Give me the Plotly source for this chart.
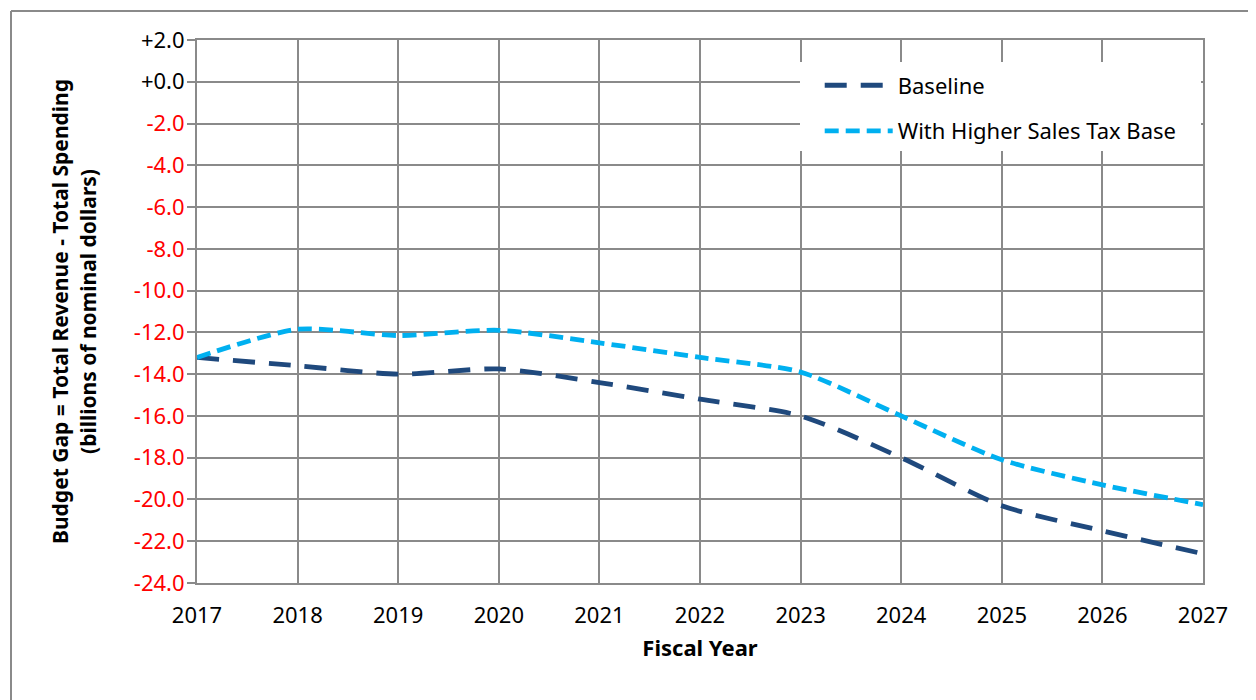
import plotly.graph_objects as go

years = [2017, 2018, 2019, 2020, 2021, 2022, 2023, 2024, 2025, 2026, 2027]
baseline = [-13.2, -13.6, -14.0, -13.75, -14.4, -15.2, -16.0, -18.0, -20.3, -21.5, -22.6]
higher_base = [-13.2, -11.85, -12.15, -11.9, -12.5, -13.2, -13.9, -16.0, -18.1, -19.3, -20.25]

ytick_vals = [2, 0, -2, -4, -6, -8, -10, -12, -14, -16, -18, -20, -22, -24]
ytick_labels = ["+2.0", "+0.0", "-2.0", "-4.0", "-6.0", "-8.0", "-10.0", "-12.0",
                "-14.0", "-16.0", "-18.0", "-20.0", "-22.0", "-24.0"]

series_names = ["Baseline", "With Higher Sales Tax Base"]
x_title = "Fiscal Year"
y_title = "Budget Gap = Total Revenue - Total Spending<br>(billions of nominal dollars)"

FONT = "Noto Sans"
GRID = "#8a8a8a"

ytext = [
    lab if v >= 0 else f"<span style='color:#ff0000'>{lab}</span>"
    for v, lab in zip(ytick_vals, ytick_labels)
]

fig = go.Figure()
fig.add_trace(go.Scatter(
    x=years, y=baseline, name=series_names[0], mode="lines", legendgroup="a",
    line=dict(color="#1f497d", width=4.8, dash="22px,14px", shape="spline", smoothing=0.7),
))
fig.add_trace(go.Scatter(
    x=years, y=higher_base, name=series_names[1], mode="lines", legendgroup="b",
    line=dict(color="#00b0f0", width=4.8, dash="14px,7px", shape="spline", smoothing=0.7),
))

# page body has an 8px offset, so the figure is sized/margined to compensate
fig.update_layout(
    width=1248, height=692,
    margin=dict(l=189, r=53, t=32, b=117),
    paper_bgcolor="white", plot_bgcolor="white",
    font=dict(family=FONT, size=22, color="black"),
    showlegend=True,
    legend=dict(
        x=0.619, y=0.955, xanchor="left", yanchor="top",
        bgcolor="rgba(0,0,0,0)", borderwidth=0,
        font=dict(family=FONT, size=22, color="black"),
        itemwidth=68, tracegroupgap=14, traceorder="grouped",
    ),
    xaxis=dict(
        range=[2017, 2027], tickvals=years, ticktext=[str(y) for y in years],
        showgrid=True, gridcolor=GRID, gridwidth=2,
        showline=True, linecolor=GRID, linewidth=2, mirror=True,
        ticks="", ticklabelstandoff=12, zeroline=False,
        title=dict(text=f"<b>{x_title}</b>", font=dict(family=FONT, size=22), standoff=12),
        tickfont=dict(family=FONT, size=22, color="black"),
    ),
    yaxis=dict(
        range=[-24, 2], tickvals=ytick_vals, ticktext=ytext,
        showgrid=True, gridcolor=GRID, gridwidth=2,
        showline=True, linecolor=GRID, linewidth=2, mirror=True,
        ticks="outside", ticklen=8, tickcolor=GRID, tickwidth=2,
        ticklabelstandoff=-2,
        zeroline=False,
        title=dict(text=f"<b>{y_title}</b>", font=dict(family=FONT, size=21), standoff=32),
        tickfont=dict(family=FONT, size=22, color="black"),
    ),
)

# white box behind legend covering the gridlines
fig.add_shape(type="rect", xref="paper", yref="paper",
              x0=(800 - 197) / 1006, x1=(1201 - 197) / 1006,
              y0=(583 - 151) / 543, y1=(583 - 62) / 543,
              fillcolor="white", line=dict(width=0), layer="above")

# outer frame (left and top edges)
fx = -186 / 1006
fy = (575 - 3) / 543
fig.add_shape(type="line", xref="paper", yref="paper",
              x0=fx, x1=1.2, y0=fy, y1=fy,
              line=dict(color="#8a8a8a", width=2))
fig.add_shape(type="line", xref="paper", yref="paper",
              x0=fx, x1=fx, y0=-0.3, y1=fy,
              line=dict(color="#8a8a8a", width=2))

fig.write_html("out.html")
